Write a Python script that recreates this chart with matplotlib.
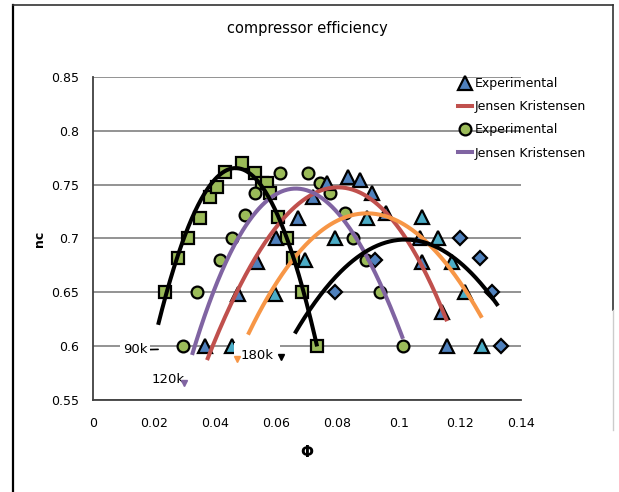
"""compressor efficiency chart."""

import numpy as np
import matplotlib
matplotlib.use("Agg")
import matplotlib.pyplot as plt
from matplotlib.lines import Line2D

plt.rcParams['font.family'] = ['Liberation Sans Narrow', 'DejaVu Sans Condensed', 'DejaVu Sans']

# experimental points
sq_x = [0.0235, 0.0278, 0.031, 0.035, 0.0383, 0.0405, 0.0432, 0.0487, 0.053,
        0.0553, 0.057, 0.058, 0.0605, 0.0635, 0.0654, 0.0684, 0.0733]
sq_y = [0.65, 0.682, 0.70, 0.719, 0.739, 0.748, 0.762, 0.770, 0.761,
        0.752, 0.752, 0.742, 0.72, 0.70, 0.682, 0.65, 0.60]

ci_x = [0.0294, 0.034, 0.0415, 0.0455, 0.0497, 0.053, 0.0612, 0.0703, 0.0743,
        0.0775, 0.0824, 0.085, 0.0893, 0.0939, 0.1014]
ci_y = [0.60, 0.65, 0.68, 0.70, 0.722, 0.742, 0.761, 0.761, 0.752,
        0.742, 0.724, 0.70, 0.68, 0.65, 0.60]

tb_x = [0.0366, 0.0474, 0.0536, 0.060, 0.067, 0.072, 0.0765, 0.0834, 0.0873,
        0.0913, 0.096, 0.107, 0.1076, 0.114, 0.1158]
tb_y = [0.60, 0.648, 0.678, 0.70, 0.719, 0.739, 0.752, 0.757, 0.754,
        0.742, 0.724, 0.70, 0.678, 0.632, 0.60]

tc_x = [0.0455, 0.0595, 0.0693, 0.079, 0.0896, 0.1076, 0.1128, 0.1174, 0.1217, 0.1272]
tc_y = [0.60, 0.648, 0.68, 0.70, 0.719, 0.72, 0.70, 0.678, 0.65, 0.60]

di_x = [0.079, 0.0922, 0.120, 0.1266, 0.1305, 0.1333]
di_y = [0.65, 0.68, 0.70, 0.682, 0.65, 0.60]

# points
red_x = [0.0373, 0.047, 0.0556, 0.0644, 0.071, 0.0785, 0.0834, 0.0906, 0.097, 0.1037, 0.110, 0.1158]
red_y = [0.587, 0.652, 0.689, 0.728, 0.739, 0.747, 0.747, 0.739, 0.72, 0.692, 0.661, 0.624]
pur_x = [0.0324, 0.0383, 0.0448, 0.0523, 0.0602, 0.0644, 0.071, 0.0752, 0.0818, 0.0873, 0.0929, 0.0972, 0.1014]
pur_y = [0.592, 0.643, 0.686, 0.72, 0.739, 0.743, 0.747, 0.743, 0.72, 0.692, 0.659, 0.634, 0.612]
ora_x = [0.0507, 0.058, 0.0638, 0.0677, 0.0752, 0.0818, 0.0883, 0.096, 0.1037, 0.111, 0.1178, 0.1223, 0.1272]
ora_y = [0.613, 0.646, 0.674, 0.687, 0.711, 0.72, 0.725, 0.719, 0.708, 0.689, 0.672, 0.649, 0.626]
bk1_x = [0.0213, 0.026, 0.0295, 0.035, 0.0415, 0.047, 0.0514, 0.0546, 0.058, 0.061, 0.0644, 0.0677, 0.071, 0.0733]
bk1_y = [0.618, 0.671, 0.701, 0.733, 0.754, 0.763, 0.764, 0.756, 0.739, 0.715, 0.689, 0.661, 0.624, 0.604]
bk2_x = [0.066, 0.0733, 0.0818, 0.0864, 0.097, 0.106, 0.1125, 0.120, 0.1276, 0.1325]
bk2_y = [0.613, 0.64, 0.674, 0.683, 0.696, 0.697, 0.694, 0.677, 0.655, 0.638]

x_ticks = [0, 0.02, 0.04, 0.06, 0.08, 0.1, 0.12, 0.14]
x_labels = ["0", "0.02", "0.04", "0.06", "0.08", "0.1", "0.12", "0.14"]
y_ticks = [0.55, 0.6, 0.65, 0.7, 0.75, 0.8, 0.85]
y_labels = ["0.55", "0.6", "0.65", "0.7", "0.75", "0.8", "0.85"]

GREEN = "#9BBB59"
BLUE = "#4F81BD"
CYAN = "#4BACC6"
RED = "#C0504D"
PURPLE = "#8064A2"
ORANGE = "#F79646"


def smooth(x, y, deg=3):
    c = np.polyfit(x, y, deg)
    xs = np.linspace(x[0], x[-1], 200)
    return xs, np.polyval(c, xs)


fig = plt.figure(figsize=(6.19, 4.92), dpi=100)
ax = fig.add_axes([93 / 619, 1 - 400 / 492, 428 / 619, 323 / 492])

mk = dict(linestyle="none", markeredgecolor="black", markeredgewidth=1.6, zorder=3)
ax.plot(sq_x, sq_y, marker="s", markersize=8.5, markerfacecolor=GREEN, **mk)
ax.plot(ci_x, ci_y, marker="o", markersize=8.5, markerfacecolor=GREEN, **mk)
ax.plot(tb_x, tb_y, marker="^", markersize=9.5, markerfacecolor=BLUE, **mk)
ax.plot(tc_x, tc_y, marker="^", markersize=9.5, markerfacecolor=CYAN, **mk)
ax.plot(di_x, di_y, marker="D", markersize=7, markerfacecolor=BLUE, **mk)

for cx, cy, col in [(red_x, red_y, RED), (pur_x, pur_y, PURPLE), (ora_x, ora_y, ORANGE),
                    (bk1_x, bk1_y, "black"), (bk2_x, bk2_y, "black")]:
    xs, ys = smooth(cx, cy)
    ax.plot(xs, ys, color=col, linewidth=2.9, solid_capstyle="butt", zorder=4)

ax.set_xlim(0, 0.14)
ax.set_ylim(0.55, 0.85)
ax.set_xticks(x_ticks)
ax.set_xticklabels(x_labels)
ax.set_yticks(y_ticks)
ax.set_yticklabels(y_labels)
ax.tick_params(length=0, labelsize=9)
ax.tick_params(axis="x", pad=12)
ax.tick_params(axis="y", pad=10)
ax.grid(axis="y", color="#808080", linewidth=1.2)
ax.set_axisbelow(True)
for s in ["top", "right"]:
    ax.spines[s].set_visible(False)
for s in ["left", "bottom"]:
    ax.spines[s].set_color("#404040")
    ax.spines[s].set_linewidth(1.3)

# speed labels
box = dict(facecolor="white", edgecolor="none", pad=2)
ax.annotate("90k", xy=(0.0213, 0.597), xytext=(0.0137, 0.5965), ha="center", va="center",
            fontsize=9.5, bbox=box, zorder=6,
            arrowprops=dict(arrowstyle="-", color="black", lw=1.2, shrinkA=0, shrinkB=0))
ax.text(0.0245, 0.5686, "120k", ha="center", va="center", fontsize=9.5, zorder=6)
ax.plot([0.0297], [0.5655], marker="v", color=PURPLE, markersize=4, zorder=6)
ax.text(0.0482, 0.5915, "180k", ha="left", va="center", fontsize=9.5, zorder=6,
        bbox=dict(facecolor="white", edgecolor="none", pad=4.5))
ax.plot([0.0615], [0.5895], marker="v", color="black", markersize=4, zorder=7)
ax.plot([0.0472], [0.588], marker="v", color=ORANGE, markersize=4, zorder=7)

ax.set_title("compressor efficiency", fontsize=10.5, pad=32)
ax.set_ylabel("nc", fontsize=9, fontweight="bold", labelpad=4)
ax.set_xlabel("Φ", fontsize=11, fontweight="bold", labelpad=11)

handles = [
    Line2D([], [], linestyle="none", marker="^", markersize=9.5, markerfacecolor=BLUE,
           markeredgecolor="black", markeredgewidth=1.6),
    Line2D([], [], color=RED, linewidth=2.9),
    Line2D([], [], linestyle="none", marker="o", markersize=8.5, markerfacecolor=GREEN,
           markeredgecolor="black", markeredgewidth=1.6),
    Line2D([], [], color=PURPLE, linewidth=2.9),
]
fig.legend(handles, ["Experimental", "Jensen Kristensen", "Experimental", "Jensen Kristensen"],
           loc="upper left", bbox_to_anchor=(458 / 619, 1 - 77 / 492), frameon=False,
           fontsize=9, handlelength=1.1, handletextpad=0.25, labelspacing=0.82,
           borderaxespad=0, borderpad=0)

# outer chart frame
fig.add_artist(Line2D([13 / 619, 13 / 619], [0, 1 - 5 / 492], color="black", lw=1.6))
fig.add_artist(Line2D([13 / 619, 613 / 619], [1 - 5 / 492, 1 - 5 / 492], color="#333333", lw=1.2))
fig.add_artist(Line2D([613 / 619, 613 / 619], [1 - 310 / 492, 1 - 5 / 492], color="#333333", lw=1.2))
fig.add_artist(Line2D([613 / 619, 613 / 619], [1 - 430 / 492, 1 - 310 / 492], color="#cccccc", lw=1.0))

fig.savefig("out.png", dpi=100)
